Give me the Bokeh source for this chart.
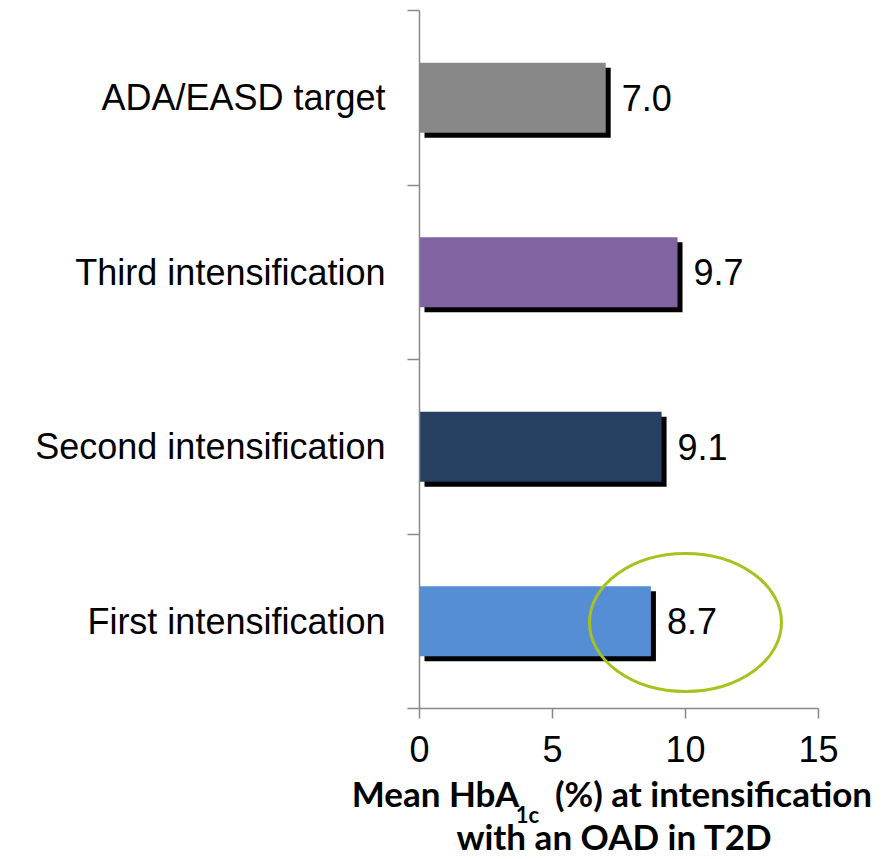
from bokeh.plotting import figure
from bokeh.models import Range1d, FixedTicker, LinearAxis, ColumnDataSource
from bokeh.core.properties import value
from bokeh.embed import file_html
from bokeh.resources import INLINE

# --- data -------------------------------------------------------------
categories = ["First intensification", "Second intensification",
              "Third intensification", "ADA/EASD target"]
hba1c = [8.7, 9.1, 9.7, 7.0]
bar_colors = ["#558ED5", "#254061", "#8064A2", "#888888"]
value_labels = ["8.7", "9.1", "9.7", "7.0"]
x_ticks = [0, 5, 10, 15]
highlight_index = 0          # category circled on the chart
highlight_center = 10        # x-centre of the highlight ring

# x-axis title pieces (HbA1c carries a subscript)
title_line1 = ["Mean HbA", "(%) at intensification"]
title_sub = "1c"
title_line2 = "with an OAD in T2D"

# --- layout constants (pixels) ----------------------------------------
W, H = 896, 859
LEFT, RIGHT, TOP, BOTTOM = 419, 78, 10, 151
FRAME_W = W - LEFT - RIGHT
FRAME_H = H - TOP - BOTTOM
X_MAX = 15
N = len(categories)
PX_X = FRAME_W / X_MAX          # pixels per x unit
PX_Y = FRAME_H / N              # pixels per category band

def sx(px):
    # page pixel column -> x data value
    return round((px - LEFT) / PX_X, 4)

ypos = [i + 0.5 for i in range(N)]
shadow_dx = 5 / PX_X
shadow_dy = 5 / PX_Y

src = ColumnDataSource(dict(y=ypos, v=hba1c, c=bar_colors, lab=value_labels,
                            ys=[y - shadow_dy for y in ypos],
                            ls=[shadow_dx] * N,
                            rs=[v + shadow_dx for v in hba1c]))

p = figure(width=W, height=H, output_backend="svg", toolbar_location=None,
           x_range=Range1d(0, X_MAX), y_range=Range1d(0, N),
           min_border_left=LEFT, min_border_right=RIGHT,
           min_border_top=TOP, min_border_bottom=BOTTOM)
p.outline_line_color = None
p.grid.visible = False
p.background_fill_color = "white"

# drop shadows, then bars
p.hbar(y="ys", left="ls", right="rs", height=0.4, source=src,
       fill_color="black", line_color=None)
p.hbar(y="y", left=0, right="v", height=0.4, source=src,
       fill_color="c", line_color=None)

# value labels
p.text(x="v", y="y", text="lab", source=src, x_offset=16,
       text_baseline="middle", text_align="left",
       text_font_size="36px", text_font=value("Liberation Sans"),
       text_color="black")

# highlight ring
p.ellipse(x=[highlight_center], y=[ypos[highlight_index] - 0.007],
          width=[192 / PX_X], height=[138 / PX_Y],
          fill_color=None, line_color="#A6C21E", line_width=3)

AX_COLOR = "#888888"

# x axis
xa = p.xaxis[0]
xa.ticker = FixedTicker(ticks=x_ticks)
xa.axis_line_color = AX_COLOR
xa.axis_line_width = 1.5
xa.major_tick_line_color = AX_COLOR
xa.major_tick_line_width = 1.5
xa.major_tick_out = 10
xa.major_tick_in = 0
xa.minor_tick_line_color = None
xa.major_label_text_font = "Liberation Sans"
xa.major_label_text_font_size = "36px"
xa.major_label_text_color = "black"
xa.major_label_standoff = 17

# y axis: boundary ticks only
ya = p.yaxis[0]
ya.ticker = FixedTicker(ticks=list(range(N + 1)))
ya.axis_line_color = AX_COLOR
ya.axis_line_width = 1.5
ya.major_tick_line_color = AX_COLOR
ya.major_tick_line_width = 1.5
ya.major_tick_out = 12
ya.major_tick_in = 0
ya.minor_tick_line_color = None
ya.major_label_text_font_size = "0px"
ya.major_label_standoff = 0
ya.major_label_overrides = {i: "" for i in range(N + 1)}

# y axis: category names centred on each band
cat_axis = LinearAxis(ticker=FixedTicker(ticks=ypos),
                      major_label_overrides={y: c for y, c in zip(ypos, categories)},
                      axis_line_color=None, major_tick_line_color=None,
                      minor_tick_line_color=None, major_tick_out=0, major_tick_in=0,
                      major_label_text_font="Liberation Sans",
                      major_label_text_font_size="36px",
                      major_label_text_color="black",
                      major_label_standoff=22)
p.add_layout(cat_axis, "left")

# x-axis title, set as label-only axes stacked under the x axis
def text_axis(labels, centers, size, standoff):
    ticks = [sx(c) for c in centers]
    ax = LinearAxis(ticker=FixedTicker(ticks=ticks),
                    major_label_overrides=dict(zip(ticks, labels)),
                    axis_line_color=None, major_tick_line_color=None,
                    minor_tick_line_color=None, major_tick_out=0, major_tick_in=0,
                    major_label_text_font="Lato",
                    major_label_text_font_style="bold",
                    major_label_text_font_size=size,
                    major_label_text_color="black",
                    major_label_standoff=standoff)
    p.add_layout(ax, "below")
    return ax

text_axis(title_line1, [435, 713], "35px", 7)
text_axis([title_sub], [527], "22px", -16)
text_axis([title_line2], [614], "35px", -16)

open("out.html", "w").write(file_html(p, INLINE))
